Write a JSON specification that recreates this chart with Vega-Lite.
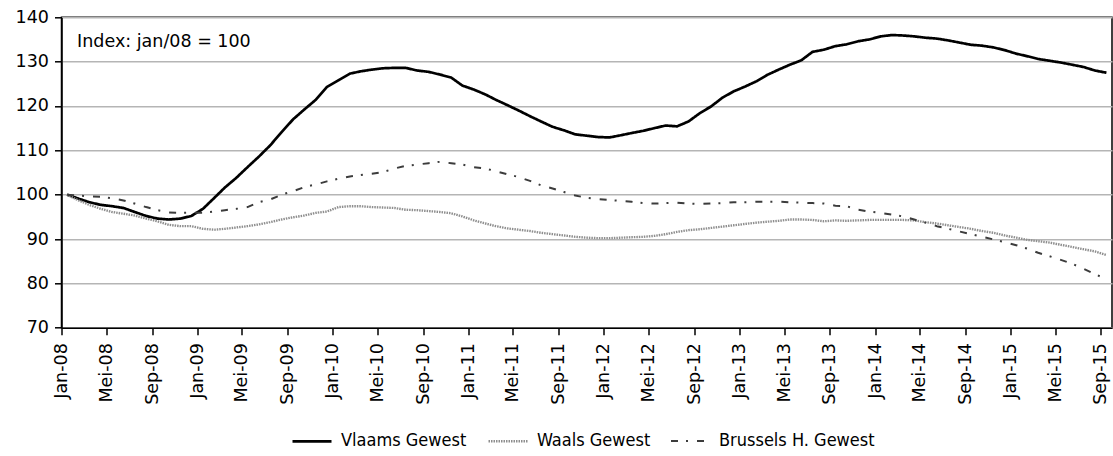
{
  "$schema": "https://vega.github.io/schema/vega-lite/v6.json",
  "width": 1050.5,
  "height": 310.4,
  "autosize": "none",
  "padding": {"left": 61.5, "top": 17.3, "right": 1, "bottom": 128.3},
  "background": "white",
  "config": {
    "font": "DejaVu Sans",
    "view": {"stroke": "black", "strokeWidth": 1.5},
    "axis": {"domainColor": "black", "domainWidth": 1.5, "tickColor": "black", "tickWidth": 1.5, "tickSize": 7, "labelFont": "DejaVu Sans", "labelFontSize": 17.5, "labelColor": "black", "title": null, "gridColor": "#b5b5b5", "gridWidth": 1.5}
  },
  "datasets": {
    "idx": [
      {"d":"2008-01-16","V":100,"W":100,"B":100},
      {"d":"2008-02-16","V":99.1,"W":98.7,"B":99.8},
      {"d":"2008-03-16","V":98.3,"W":97.7,"B":99.6},
      {"d":"2008-04-16","V":97.7,"W":96.8,"B":99.5},
      {"d":"2008-05-16","V":97.4,"W":96.1,"B":99.2},
      {"d":"2008-06-16","V":97.0,"W":95.7,"B":98.7},
      {"d":"2008-07-16","V":96.1,"W":95.3,"B":98.0},
      {"d":"2008-08-16","V":95.2,"W":94.6,"B":97.2},
      {"d":"2008-09-16","V":94.6,"W":94.0,"B":96.5},
      {"d":"2008-10-16","V":94.4,"W":93.2,"B":96.0},
      {"d":"2008-11-16","V":94.6,"W":92.9,"B":95.9},
      {"d":"2008-12-16","V":95.2,"W":92.9,"B":95.9},
      {"d":"2009-01-16","V":96.8,"W":92.3,"B":95.9},
      {"d":"2009-02-16","V":99.3,"W":92.1,"B":96.2},
      {"d":"2009-03-16","V":101.6,"W":92.3,"B":96.5},
      {"d":"2009-04-16","V":103.8,"W":92.6,"B":96.8},
      {"d":"2009-05-16","V":106.2,"W":92.9,"B":97.2},
      {"d":"2009-06-16","V":108.6,"W":93.3,"B":98.3},
      {"d":"2009-07-16","V":111.1,"W":93.8,"B":98.9},
      {"d":"2009-08-16","V":114.1,"W":94.4,"B":100.0},
      {"d":"2009-09-16","V":117.0,"W":94.9,"B":100.8},
      {"d":"2009-10-16","V":119.2,"W":95.3,"B":101.7},
      {"d":"2009-11-16","V":121.4,"W":95.9,"B":102.3},
      {"d":"2009-12-16","V":124.3,"W":96.2,"B":103.0},
      {"d":"2010-01-16","V":125.8,"W":97.2,"B":103.6},
      {"d":"2010-02-16","V":127.3,"W":97.4,"B":104.1},
      {"d":"2010-03-16","V":127.8,"W":97.4,"B":104.4},
      {"d":"2010-04-16","V":128.2,"W":97.2,"B":104.7},
      {"d":"2010-05-16","V":128.5,"W":97.1,"B":105.1},
      {"d":"2010-06-16","V":128.6,"W":97.0,"B":105.9},
      {"d":"2010-07-16","V":128.6,"W":96.6,"B":106.5},
      {"d":"2010-08-16","V":128.0,"W":96.5,"B":106.8},
      {"d":"2010-09-16","V":127.7,"W":96.3,"B":107.1},
      {"d":"2010-10-16","V":127.1,"W":96.1,"B":107.4},
      {"d":"2010-11-16","V":126.4,"W":95.8,"B":107.1},
      {"d":"2010-12-16","V":124.6,"W":95.1,"B":106.8},
      {"d":"2011-01-16","V":123.7,"W":94.2,"B":106.2},
      {"d":"2011-02-16","V":122.6,"W":93.5,"B":105.9},
      {"d":"2011-03-16","V":121.4,"W":92.9,"B":105.3},
      {"d":"2011-04-16","V":120.2,"W":92.4,"B":104.6},
      {"d":"2011-05-16","V":119.0,"W":92.1,"B":104.0},
      {"d":"2011-06-16","V":117.7,"W":91.8,"B":103.1},
      {"d":"2011-07-16","V":116.5,"W":91.4,"B":102.1},
      {"d":"2011-08-16","V":115.3,"W":91.1,"B":101.4},
      {"d":"2011-09-16","V":114.5,"W":90.8,"B":100.6},
      {"d":"2011-10-16","V":113.6,"W":90.5,"B":99.8},
      {"d":"2011-11-16","V":113.3,"W":90.3,"B":99.3},
      {"d":"2011-12-16","V":113.0,"W":90.2,"B":99.0},
      {"d":"2012-01-16","V":112.9,"W":90.2,"B":98.8},
      {"d":"2012-02-16","V":113.4,"W":90.3,"B":98.6},
      {"d":"2012-03-16","V":113.9,"W":90.4,"B":98.4},
      {"d":"2012-04-16","V":114.4,"W":90.5,"B":98.1},
      {"d":"2012-05-16","V":115.0,"W":90.7,"B":98.0},
      {"d":"2012-06-16","V":115.6,"W":91.1,"B":98.1},
      {"d":"2012-07-16","V":115.4,"W":91.6,"B":98.2},
      {"d":"2012-08-16","V":116.5,"W":92.0,"B":98.0},
      {"d":"2012-09-16","V":118.4,"W":92.2,"B":97.9},
      {"d":"2012-10-16","V":119.9,"W":92.5,"B":98.0},
      {"d":"2012-11-16","V":121.9,"W":92.8,"B":98.1},
      {"d":"2012-12-16","V":123.3,"W":93.1,"B":98.3},
      {"d":"2013-01-16","V":124.4,"W":93.4,"B":98.3},
      {"d":"2013-02-16","V":125.6,"W":93.7,"B":98.4},
      {"d":"2013-03-16","V":127.0,"W":93.9,"B":98.4},
      {"d":"2013-04-16","V":128.2,"W":94.1,"B":98.4},
      {"d":"2013-05-16","V":129.3,"W":94.4,"B":98.3},
      {"d":"2013-06-16","V":130.3,"W":94.4,"B":98.2},
      {"d":"2013-07-16","V":132.2,"W":94.3,"B":98.1},
      {"d":"2013-08-16","V":132.7,"W":94.0,"B":98.0},
      {"d":"2013-09-16","V":133.5,"W":94.2,"B":97.5},
      {"d":"2013-10-16","V":133.9,"W":94.1,"B":97.4},
      {"d":"2013-11-16","V":134.6,"W":94.2,"B":96.6},
      {"d":"2013-12-16","V":135.0,"W":94.3,"B":96.2},
      {"d":"2014-01-16","V":135.7,"W":94.3,"B":95.9},
      {"d":"2014-02-16","V":136.0,"W":94.3,"B":95.5},
      {"d":"2014-03-16","V":135.9,"W":94.3,"B":95.1},
      {"d":"2014-04-16","V":135.7,"W":94.2,"B":94.4},
      {"d":"2014-05-16","V":135.4,"W":93.8,"B":93.7},
      {"d":"2014-06-16","V":135.2,"W":93.5,"B":92.9},
      {"d":"2014-07-16","V":134.8,"W":93.1,"B":92.3},
      {"d":"2014-08-16","V":134.3,"W":92.7,"B":91.7},
      {"d":"2014-09-16","V":133.8,"W":92.3,"B":91.1},
      {"d":"2014-10-16","V":133.6,"W":91.8,"B":90.5},
      {"d":"2014-11-16","V":133.2,"W":91.4,"B":89.9},
      {"d":"2014-12-16","V":132.6,"W":90.8,"B":89.3},
      {"d":"2015-01-16","V":131.8,"W":90.3,"B":88.6},
      {"d":"2015-02-16","V":131.2,"W":89.8,"B":87.8},
      {"d":"2015-03-16","V":130.6,"W":89.5,"B":86.9},
      {"d":"2015-04-16","V":130.2,"W":89.2,"B":86.1},
      {"d":"2015-05-16","V":129.8,"W":88.7,"B":85.3},
      {"d":"2015-06-16","V":129.3,"W":88.2,"B":84.4},
      {"d":"2015-07-16","V":128.8,"W":87.7,"B":83.3},
      {"d":"2015-08-16","V":128.0,"W":87.2,"B":82.1},
      {"d":"2015-09-16","V":127.5,"W":86.4,"B":80.9}
    ]
  },
  "layer": [
    {
      "data": {"name": "idx"},
      "transform": [{"fold": ["V", "W", "B"], "as": ["reeks", "waarde"]}],
      "mark": {"type": "line", "interpolate": "linear", "strokeCap": "butt", "strokeJoin": "round"},
      "encoding": {
        "x": {
          "field": "d", "type": "temporal",
          "scale": {"type": "utc", "domain": [{"year": 2008, "month": 1, "date": 1, "utc": true}, {"year": 2015, "month": 10, "date": 1, "utc": true}]},
          "axis": {
            "grid": false,
            "values": [
              {"year":2008,"month":1,"date":1,"utc":true},{"year":2008,"month":5,"date":1,"utc":true},{"year":2008,"month":9,"date":1,"utc":true},
              {"year":2009,"month":1,"date":1,"utc":true},{"year":2009,"month":5,"date":1,"utc":true},{"year":2009,"month":9,"date":1,"utc":true},
              {"year":2010,"month":1,"date":1,"utc":true},{"year":2010,"month":5,"date":1,"utc":true},{"year":2010,"month":9,"date":1,"utc":true},
              {"year":2011,"month":1,"date":1,"utc":true},{"year":2011,"month":5,"date":1,"utc":true},{"year":2011,"month":9,"date":1,"utc":true},
              {"year":2012,"month":1,"date":1,"utc":true},{"year":2012,"month":5,"date":1,"utc":true},{"year":2012,"month":9,"date":1,"utc":true},
              {"year":2013,"month":1,"date":1,"utc":true},{"year":2013,"month":5,"date":1,"utc":true},{"year":2013,"month":9,"date":1,"utc":true},
              {"year":2014,"month":1,"date":1,"utc":true},{"year":2014,"month":5,"date":1,"utc":true},{"year":2014,"month":9,"date":1,"utc":true},
              {"year":2015,"month":1,"date":1,"utc":true},{"year":2015,"month":5,"date":1,"utc":true},{"year":2015,"month":9,"date":1,"utc":true}
            ],
            "labelExpr": "['Jan','Feb','Mrt','Apr','Mei','Jun','Jul','Aug','Sep','Okt','Nov','Dec'][utcmonth(datum.value)] + '-' + utcFormat(datum.value, '%y')",
            "labelAngle": -90, "labelAlign": "right", "labelBaseline": "middle",
            "labelPadding": 8, "labelOverlap": false, "labelFlush": false
          }
        },
        "y": {
          "field": "waarde", "type": "quantitative",
          "scale": {"domain": [70, 140], "nice": false, "zero": false},
          "axis": {"values": [70, 80, 90, 100, 110, 120, 130, 140], "grid": true, "labelPadding": 6}
        },
        "color": {
          "field": "reeks", "type": "nominal",
          "scale": {"domain": ["V", "W", "B"], "range": ["#000000", "#8e8e8e", "#3c3c3c"]},
          "legend": {
            "orient": "none", "legendX": 229.5, "legendY": 403, "direction": "horizontal", "title": null,
            "labelExpr": "datum.label == 'V' ? 'Vlaams Gewest' : datum.label == 'W' ? 'Waals Gewest' : 'Brussels H. Gewest'",
            "symbolType": "stroke", "symbolSize": 1521,
            "labelFont": "DejaVu Sans Condensed", "labelFontSize": 18, "labelColor": "black",
            "labelOffset": 8, "columnPadding": 16, "padding": 0
          }
        },
        "strokeDash": {
          "field": "reeks", "type": "nominal",
          "scale": {"domain": ["V", "W", "B"], "range": [[1, 0], [1.5, 1], [7, 8, 2, 9]]}
        },
        "strokeWidth": {
          "field": "reeks", "type": "nominal",
          "scale": {"domain": ["V", "W", "B"], "range": [2.7, 2, 2.7]}
        }
      }
    },
    {
      "data": {"values": [{}]},
      "mark": {"type": "text", "align": "left", "baseline": "alphabetic", "font": "DejaVu Sans", "fontSize": 17.5, "color": "black"},
      "encoding": {
        "x": {"datum": {"year": 2008, "month": 2, "date": 12, "utc": true}, "type": "temporal"},
        "y": {"datum": 133.4, "type": "quantitative"},
        "text": {"value": "Index: jan/08 = 100"}
      }
    }
  ]
}
